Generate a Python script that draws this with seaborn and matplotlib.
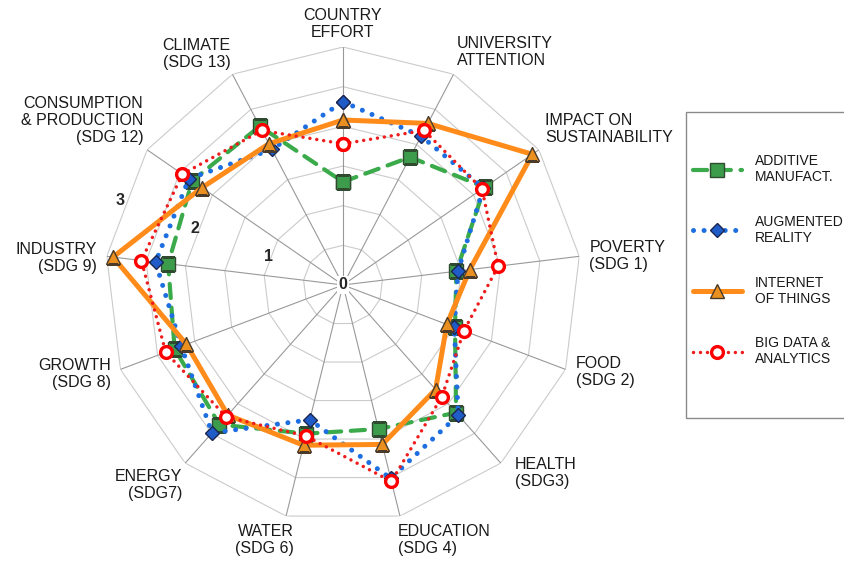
import numpy as np
import pandas as pd
import seaborn as sns
import matplotlib.pyplot as plt
from matplotlib.lines import Line2D
from matplotlib.patches import Rectangle

# axes, clockwise from the top
categories = [
    "COUNTRY\nEFFORT", "UNIVERSITY\nATTENTION", "IMPACT ON\nSUSTAINABILITY",
    "POVERTY\n(SDG 1)", "FOOD\n(SDG 2)", "HEALTH\n(SDG3)", "EDUCATION\n(SDG 4)",
    "WATER\n(SDG 6)", "ENERGY\n(SDG7)", "GROWTH\n(SDG 8)", "INDUSTRY\n(SDG 9)",
    "CONSUMPTION\n& PRODUCTION\n(SDG 12)", "CLIMATE\n(SDG 13)",
]
additive_manufact = [1.30, 1.82, 2.17, 1.44, 1.51, 2.15, 1.87, 1.93, 2.35, 2.27, 2.22, 2.31, 2.26]
augmented_reality = [2.31, 2.12, 2.15, 1.46, 1.50, 2.19, 2.51, 1.75, 2.49, 2.18, 2.38, 2.36, 1.93]
internet_of_things = [2.08, 2.30, 2.90, 1.61, 1.40, 1.76, 2.07, 2.08, 2.19, 2.11, 2.92, 2.16, 2.01]
big_data = [1.78, 2.20, 2.13, 1.97, 1.63, 1.88, 2.55, 1.96, 2.22, 2.39, 2.56, 2.46, 2.20]
series_labels = ["ADDITIVE\nMANUFACT.", "AUGMENTED\nREALITY", "INTERNET\nOF THINGS", "BIG DATA &\nANALYTICS"]
r_ticks = [0, 1, 2, 3]
r_max = 3

sns.set_style("white")
plt.rcParams['font.family'] = ['Liberation Sans', 'DejaVu Sans']

n = len(categories)
theta = np.linspace(0, 2 * np.pi, n, endpoint=False)
theta_closed = np.append(theta, 2 * np.pi)

fig = plt.figure(figsize=(8.45, 5.62), dpi=100)
ax = fig.add_axes([105 / 845, 1 - 523 / 562, 476 / 845, 476 / 562], projection='polar')
ax.set_theta_offset(np.pi / 2)
ax.set_theta_direction(-1)
ax.grid(False)
ax.spines['polar'].set_visible(False)
ax.set_xticks([])
ax.set_yticks([])

# polygon web
for r in np.arange(0.5, r_max + 0.01, 0.5):
    ax.plot(theta_closed, [r] * (n + 1), color='#cbcbcb', lw=0.8, zorder=1)
for t in theta:
    ax.plot([t, t], [0, r_max], color='#999999', lw=0.8, zorder=1)

styles = [
    dict(color='#3aaa4a', linestyle=(0, (3.4, 2.3)), lw=3.0, dash_capstyle='round',
         marker='s', markersize=9.5, markerfacecolor='#3c9c4c', markeredgecolor='#2f4a2f', markeredgewidth=1.0),
    dict(color='#1d6ee0', linestyle=(0, (0.01, 2.1)), lw=3.6, dash_capstyle='round',
         marker='D', markersize=7.5, markerfacecolor='#1f5cc8', markeredgecolor='#1a2650', markeredgewidth=1.0),
    dict(color='#ff8c1a', linestyle='-', lw=3.6,
         marker='^', markersize=10.5, markerfacecolor='#ea9020', markeredgecolor='#4a3a2a', markeredgewidth=1.0),
    dict(color='#ee1c1c', linestyle=(0, (0.01, 2.0)), lw=2.5, dash_capstyle='round',
         marker='o', markersize=8.5, markerfacecolor='white', markeredgecolor='#ff0000', markeredgewidth=2.4),
]
series = [additive_manufact, augmented_reality, internet_of_things, big_data]

for i, (vals, st) in enumerate(zip(series, styles)):
    df = pd.DataFrame({"theta": theta_closed, "value": vals + vals[:1]})
    sns.lineplot(data=df, x="theta", y="value", ax=ax, sort=False, zorder=3 + i, **st)

ax.set_xlabel("")
ax.set_ylabel("")
ax.set_ylim(0, r_max)

# category labels around the outer ring
label_pos = [
    ((0, 7), 'center', 'bottom'), ((3, 6), 'left', 'bottom'), ((6, 5), 'left', 'bottom'),
    ((10, 0), 'left', 'center'), ((10, -3), 'left', 'center'), ((14, -10), 'left', 'center'),
    ((-2, -8), 'left', 'top'), ((8, -8), 'right', 'top'), ((-3, -6), 'right', 'top'),
    ((-9, -5), 'right', 'center'), ((-10, -2), 'right', 'center'), ((-4, 5), 'right', 'bottom'),
    ((-2, 4), 'right', 'bottom'),
]
for t, lab, (off, ha, va) in zip(theta, categories, label_pos):
    ax.annotate(lab, xy=(t, r_max), xytext=off, textcoords='offset pixels',
                ha=ha, va=va, ma=ha, linespacing=1.15,
                fontsize=11.5, color='#1a1a1a', annotation_clip=False)

# radial values between INDUSTRY and CONSUMPTION
t_lab = (theta[10] + theta[11]) / 2
for v in r_ticks:
    ax.text(t_lab, v, str(v), fontsize=11.5, fontweight='bold', ha='center', va='center',
            zorder=10, bbox=dict(facecolor='white', edgecolor='none', pad=1.0) if v == 0 else None)

# legend
handles = [Line2D([], [], **st) for st in styles]
fig.legend(handles, series_labels, loc='upper left', bbox_to_anchor=(693 / 845, 1 - 154 / 562),
           frameon=False, fontsize=10, handlelength=3.5, handletextpad=0.95,
           labelspacing=2.2, borderpad=0, borderaxespad=0, labelcolor='#1a1a1a')
fig.add_artist(Rectangle((686 / 845, 1 - 418 / 562), 170 / 845, 306 / 562, transform=fig.transFigure,
                         fill=False, edgecolor='#8a8a8a', lw=1.0))

fig.savefig('out.png', dpi=100)
